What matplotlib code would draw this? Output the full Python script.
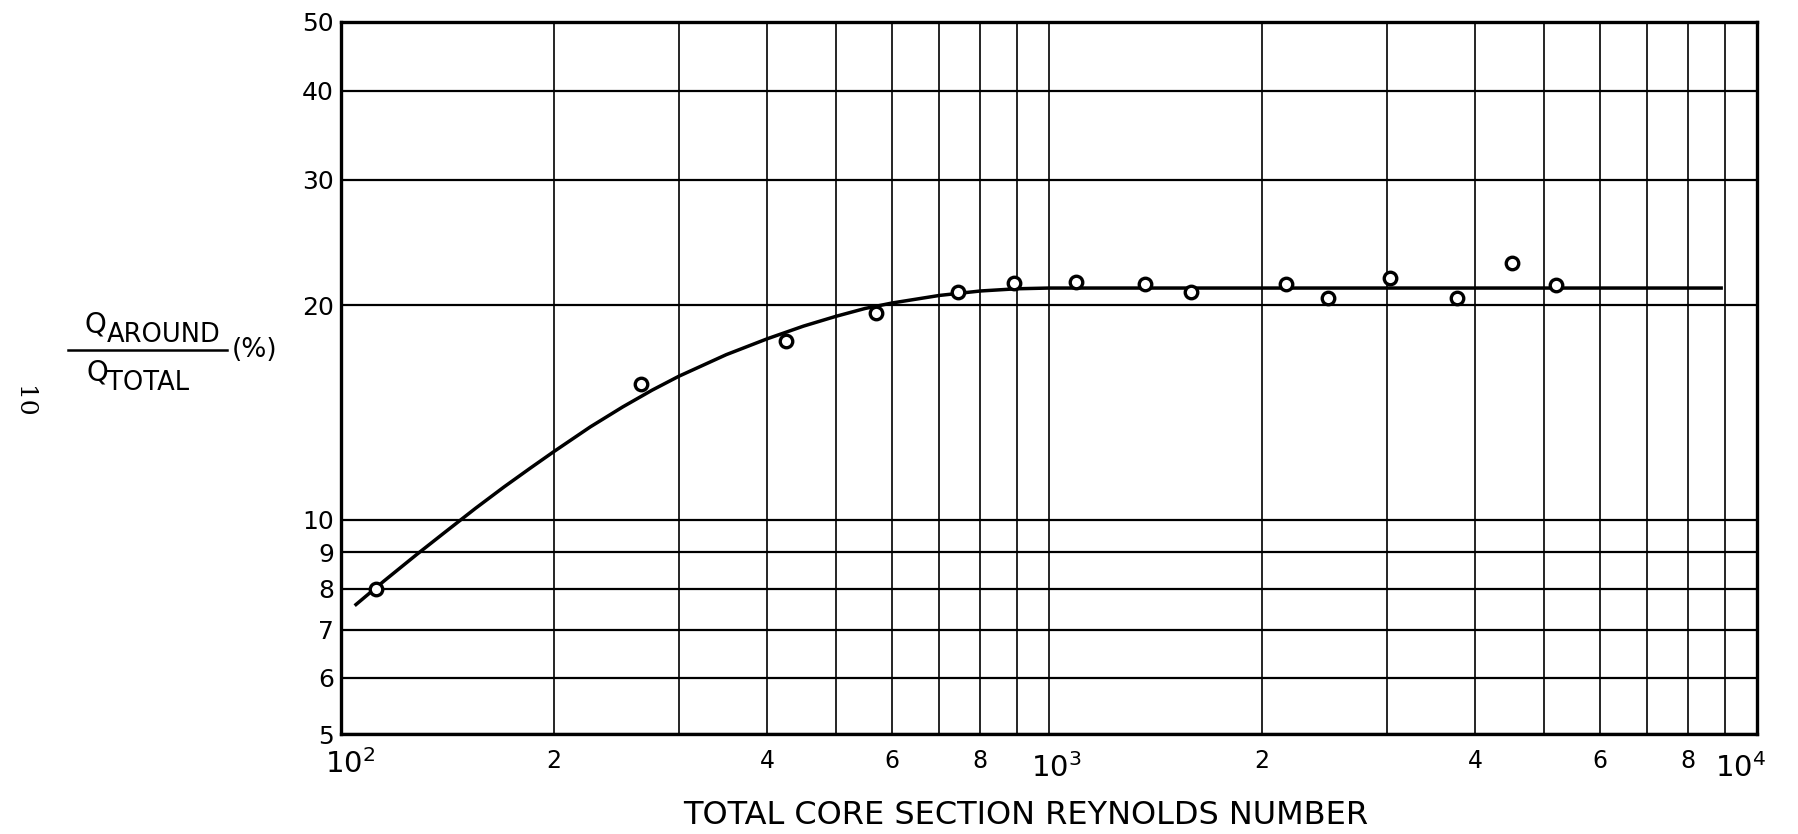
import matplotlib.pyplot as plt
import matplotlib.transforms as mtransforms
from matplotlib.lines import Line2D
from matplotlib.ticker import NullLocator, NullFormatter

plt.rcParams['font.family'] = ['DejaVu Sans']

# Measured points: total core section Reynolds number vs Q_around / Q_total (%)
re_points = [112, 265, 425, 570, 743, 893, 1092, 1368, 1587, 2161, 2475, 3034, 3770, 4503, 5201]
q_points = [8.0, 15.5, 17.8, 19.5, 20.9, 21.5, 21.6, 21.45, 20.85, 21.4, 20.45, 21.85, 20.5, 22.9, 21.35]

# Faired curve through the data
re_curve = [105, 115, 128, 140, 155, 170, 185, 200, 225, 250, 275, 300, 350, 400,
            450, 500, 550, 600, 700, 800, 900, 1000, 1200, 2000, 5000, 8900]
q_curve = [7.6, 8.2, 8.94, 9.59, 10.38, 11.12, 11.81, 12.47, 13.5, 14.4, 15.2, 15.9,
           17.05, 17.95, 18.7, 19.3, 19.8, 20.15, 20.65, 20.95, 21.1, 21.15,
           21.15, 21.15, 21.15, 21.15]

# Axis ticks / labels
x_major = [100, 1000, 10000]
x_major_labels = [r'$\mathregular{10^2}$', r'$\mathregular{10^3}$', r'$\mathregular{10^4}$']
x_minor = [200, 300, 400, 500, 600, 700, 800, 900,
           2000, 3000, 4000, 5000, 6000, 7000, 8000, 9000]
x_minor_labels = ['2', '', '4', '', '6', '', '8', '',
                  '2', '', '4', '', '6', '', '8', '']
y_ticks = [5, 6, 7, 8, 9, 10, 20, 30, 40, 50]
y_labels = ['5', '6', '7', '8', '9', '10', '20', '30', '40', '50']

W, H = 1799, 834
fig = plt.figure(figsize=(W / 100, H / 100), dpi=100)
ax = fig.add_axes([341 / W, 1 - 734 / H, (1757 - 341) / W, (734 - 22) / H])

ax.set_xscale('log')
ax.set_yscale('log')
ax.set_xlim(100, 10000)
ax.set_ylim(5, 50)

ax.plot(re_curve, q_curve, color='black', lw=2.5, solid_joinstyle='round', zorder=3)
ax.plot(re_points, q_points, linestyle='none', marker='o', ms=9, mew=2.4,
        mec='black', mfc='white', zorder=4)

ax.set_xticks(x_major, labels=x_major_labels)
ax.set_xticks(x_minor, labels=x_minor_labels, minor=True)
ax.set_yticks(y_ticks, labels=y_labels)
ax.yaxis.set_minor_locator(NullLocator())
ax.yaxis.set_minor_formatter(NullFormatter())

ax.tick_params(axis='both', which='both', length=0, colors='black')
ax.tick_params(axis='y', labelsize=18, pad=5)
ax.tick_params(axis='x', which='minor', labelsize=17, pad=11)
ax.tick_params(axis='x', which='major', labelsize=21, pad=11)

ax.grid(True, axis='x', which='both', color='black', lw=1.2)
ax.grid(True, axis='y', which='major', color='black', lw=1.6)

for sp in ax.spines.values():
    sp.set_linewidth(2.4)
    sp.set_color('black')

# nudge the power-of-ten labels like on the original sheet
shifts = [(9, 0), (7, -4), (-16, -4)]
for lab, (dx, dy) in zip(ax.get_xticklabels(), shifts):
    lab.set_transform(lab.get_transform() +
                      mtransforms.ScaledTranslation(dx / 100, dy / 100, fig.dpi_scale_trans))

ax.text(0.4838, -0.093, 'TOTAL CORE SECTION REYNOLDS NUMBER', transform=ax.transAxes,
        ha='center', va='top', fontsize=23)

# y-axis label as a fraction Q_AROUND / Q_TOTAL (%)
fig.text(85 / W, 1 - 333 / H, 'Q', fontsize=20, va='baseline')
fig.text(107 / W, 1 - 342 / H, 'AROUND', fontsize=18.5, va='baseline')
fig.text(87 / W, 1 - 380 / H, 'Q', fontsize=20, va='baseline')
fig.text(107 / W, 1 - 390 / H, 'TOTAL', fontsize=18.5, va='baseline')
fig.add_artist(Line2D([68 / W, 227 / W], [1 - 350 / H, 1 - 350 / H],
                      transform=fig.transFigure, color='black', lw=1.8))
fig.text(232 / W, 1 - 350 / H, '(%)', fontsize=19, va='center', ha='left')

# page number in the margin
fig.text(24 / W, 1 - 402 / H, '10', fontsize=18, family='DejaVu Serif',
         rotation=-90, ha='center', va='center')

fig.savefig('out.png', dpi=100, facecolor='white')
